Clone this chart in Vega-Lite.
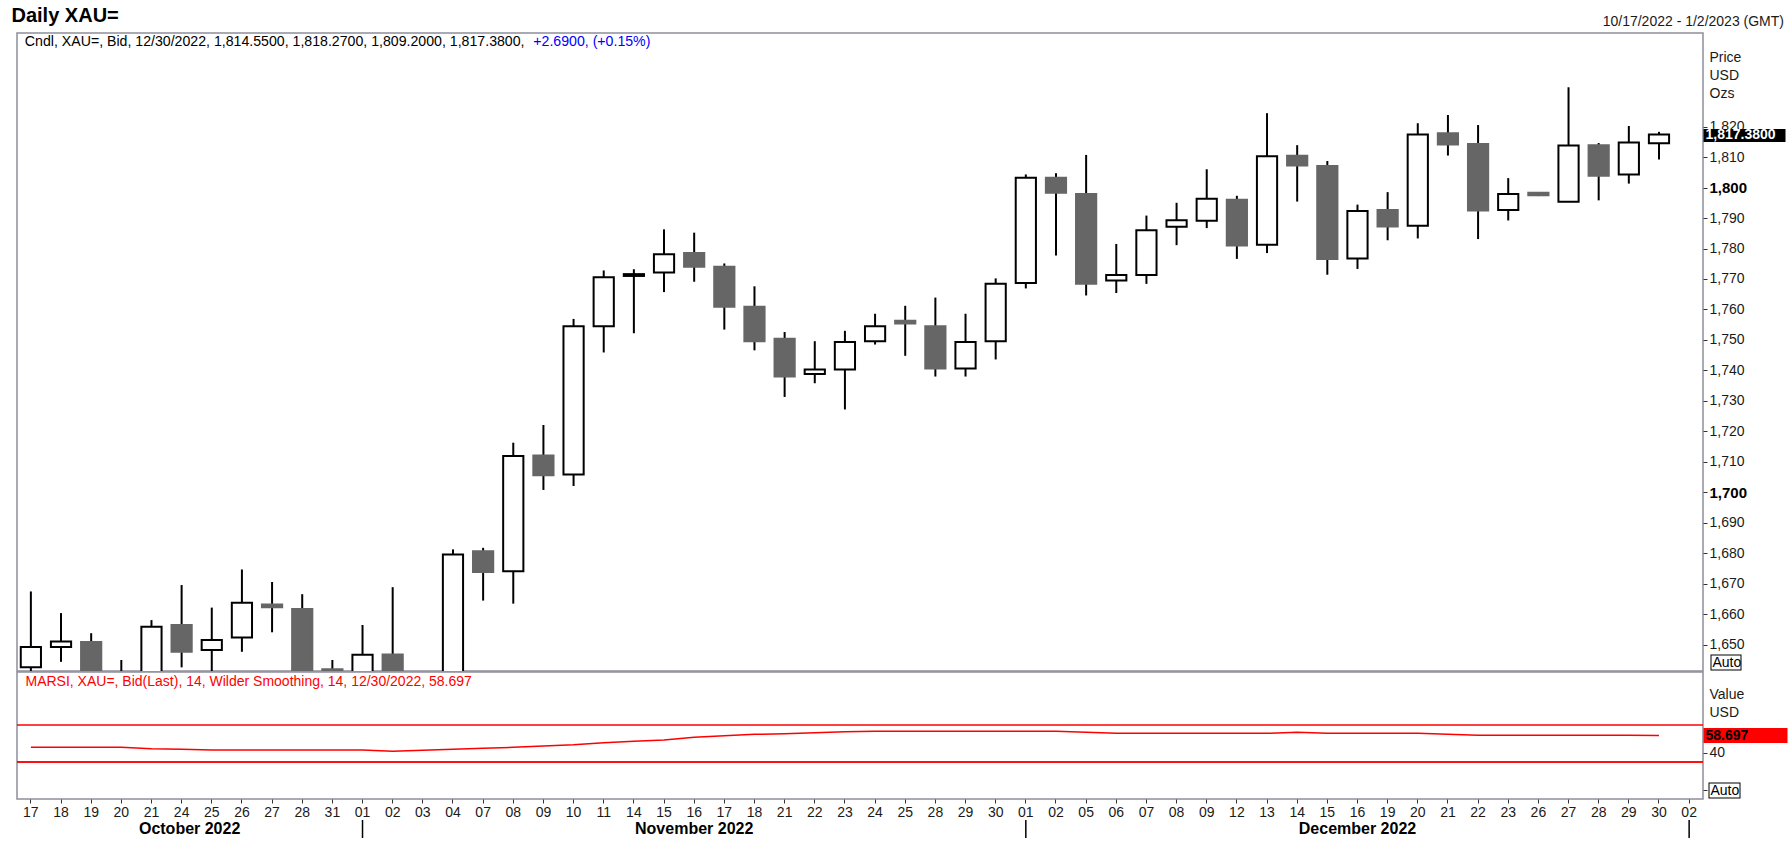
{
  "$schema": "https://vega.github.io/schema/vega-lite/v6.json",
  "padding": {"left": 11, "top": 6, "right": 0, "bottom": 0},
  "background": "white",
  "title": {"text": "Daily XAU=", "anchor": "start", "fontSize": 20, "fontWeight": "bold", "color": "#000000", "offset": -12, "dx": -4},
  "config": {
    "font": "Liberation Sans",
    "view": {"stroke": "#8f8f9c", "strokeWidth": 1.5},
    "axis": {"labelFont": "Liberation Sans", "titleFont": "Liberation Sans", "labelColor": "#1a1a1a", "titleColor": "#1a1a1a", "titleFontWeight": "normal", "labelFontSize": 14, "titleFontSize": 14, "grid": false, "domain": false, "tickColor": "#333333"},
    "title": {"font": "Liberation Sans"}
  },
  "datasets": {
    "candles": [
      {"date": "2022-10-17", "open": 1642.6, "high": 1667.5, "low": 1640.5, "close": 1649.3, "rsi": 45.9},
      {"date": "2022-10-18", "open": 1649.3, "high": 1660.4, "low": 1644.4, "close": 1651.1, "rsi": 45.9},
      {"date": "2022-10-19", "open": 1650.9, "high": 1653.8, "low": 1628.0, "close": 1630.0, "rsi": 45.9},
      {"date": "2022-10-20", "open": 1630.0, "high": 1645.0, "low": 1621.0, "close": 1627.0, "rsi": 45.9},
      {"date": "2022-10-21", "open": 1627.0, "high": 1658.1, "low": 1617.0, "close": 1655.9, "rsi": 44.4},
      {"date": "2022-10-24", "open": 1656.5, "high": 1669.6, "low": 1642.6, "close": 1647.7, "rsi": 43.7},
      {"date": "2022-10-25", "open": 1648.3, "high": 1662.2, "low": 1638.0, "close": 1651.6, "rsi": 43.0},
      {"date": "2022-10-26", "open": 1652.4, "high": 1674.7, "low": 1647.7, "close": 1663.8, "rsi": 43.0},
      {"date": "2022-10-27", "open": 1663.2, "high": 1670.6, "low": 1654.1, "close": 1662.3, "rsi": 43.0},
      {"date": "2022-10-28", "open": 1661.7, "high": 1666.6, "low": 1636.0, "close": 1640.0, "rsi": 43.0},
      {"date": "2022-10-31", "open": 1642.0, "high": 1645.0, "low": 1627.0, "close": 1633.0, "rsi": 43.0},
      {"date": "2022-11-01", "open": 1633.0, "high": 1656.5, "low": 1631.0, "close": 1646.7, "rsi": 43.0},
      {"date": "2022-11-02", "open": 1646.8, "high": 1668.9, "low": 1631.0, "close": 1635.0, "rsi": 41.5},
      {"date": "2022-11-03", "open": 1635.0, "high": 1640.0, "low": 1617.0, "close": 1630.0, "rsi": 42.6},
      {"date": "2022-11-04", "open": 1629.6, "high": 1681.3, "low": 1627.5, "close": 1679.6, "rsi": 43.7},
      {"date": "2022-11-07", "open": 1680.7, "high": 1681.8, "low": 1664.5, "close": 1673.9, "rsi": 44.8},
      {"date": "2022-11-08", "open": 1674.1, "high": 1716.3, "low": 1663.5, "close": 1711.9, "rsi": 45.9},
      {"date": "2022-11-09", "open": 1712.1, "high": 1722.1, "low": 1700.8, "close": 1705.6, "rsi": 47.3},
      {"date": "2022-11-10", "open": 1705.9, "high": 1756.9, "low": 1702.1, "close": 1754.5, "rsi": 48.7},
      {"date": "2022-11-11", "open": 1754.5, "high": 1772.8, "low": 1745.9, "close": 1770.6, "rsi": 50.9},
      {"date": "2022-11-14", "open": 1771.0, "high": 1773.2, "low": 1752.2, "close": 1771.6, "rsi": 52.4},
      {"date": "2022-11-15", "open": 1772.1, "high": 1786.3, "low": 1765.7, "close": 1778.1, "rsi": 53.8},
      {"date": "2022-11-16", "open": 1778.5, "high": 1785.2, "low": 1769.1, "close": 1774.0, "rsi": 56.7},
      {"date": "2022-11-17", "open": 1774.0, "high": 1775.1, "low": 1753.4, "close": 1760.9, "rsi": 58.5},
      {"date": "2022-11-18", "open": 1760.9, "high": 1767.6, "low": 1746.6, "close": 1749.6, "rsi": 59.9},
      {"date": "2022-11-21", "open": 1750.4, "high": 1752.6, "low": 1731.3, "close": 1738.0, "rsi": 60.6},
      {"date": "2022-11-22", "open": 1738.8, "high": 1749.6, "low": 1735.8, "close": 1740.3, "rsi": 61.5},
      {"date": "2022-11-23", "open": 1740.3, "high": 1753.0, "low": 1727.2, "close": 1749.3, "rsi": 62.6},
      {"date": "2022-11-24", "open": 1749.6, "high": 1758.6, "low": 1748.5, "close": 1754.5, "rsi": 63.2},
      {"date": "2022-11-25", "open": 1756.3, "high": 1761.2, "low": 1744.8, "close": 1755.4, "rsi": 63.2},
      {"date": "2022-11-28", "open": 1754.5, "high": 1763.9, "low": 1738.0, "close": 1740.6, "rsi": 63.2},
      {"date": "2022-11-29", "open": 1740.6, "high": 1758.6, "low": 1738.0, "close": 1749.3, "rsi": 63.2},
      {"date": "2022-11-30", "open": 1749.6, "high": 1770.2, "low": 1743.6, "close": 1768.4, "rsi": 63.2},
      {"date": "2022-12-01", "open": 1768.7, "high": 1804.3, "low": 1766.9, "close": 1803.2, "rsi": 63.2},
      {"date": "2022-12-02", "open": 1803.2, "high": 1804.7, "low": 1777.7, "close": 1798.3, "rsi": 63.2},
      {"date": "2022-12-05", "open": 1797.9, "high": 1810.7, "low": 1764.6, "close": 1768.4, "rsi": 62.1},
      {"date": "2022-12-06", "open": 1769.5, "high": 1781.5, "low": 1765.4, "close": 1771.3, "rsi": 61.0},
      {"date": "2022-12-07", "open": 1771.3, "high": 1790.8, "low": 1768.4, "close": 1786.0, "rsi": 61.0},
      {"date": "2022-12-08", "open": 1787.1, "high": 1795.0, "low": 1781.1, "close": 1789.3, "rsi": 61.0},
      {"date": "2022-12-09", "open": 1789.1, "high": 1806.0, "low": 1786.7, "close": 1796.3, "rsi": 61.0},
      {"date": "2022-12-12", "open": 1796.0, "high": 1797.3, "low": 1776.6, "close": 1781.0, "rsi": 61.0},
      {"date": "2022-12-13", "open": 1781.2, "high": 1824.4, "low": 1778.5, "close": 1810.3, "rsi": 61.0},
      {"date": "2022-12-14", "open": 1810.4, "high": 1813.9, "low": 1795.4, "close": 1807.2, "rsi": 62.1},
      {"date": "2022-12-15", "open": 1807.1, "high": 1808.7, "low": 1771.4, "close": 1776.6, "rsi": 61.0},
      {"date": "2022-12-16", "open": 1776.7, "high": 1794.4, "low": 1773.3, "close": 1792.3, "rsi": 61.0},
      {"date": "2022-12-19", "open": 1792.6, "high": 1798.5, "low": 1782.7, "close": 1787.2, "rsi": 61.0},
      {"date": "2022-12-20", "open": 1787.5, "high": 1821.1, "low": 1783.3, "close": 1817.4, "rsi": 61.0},
      {"date": "2022-12-21", "open": 1817.8, "high": 1823.8, "low": 1810.5, "close": 1814.1, "rsi": 59.9},
      {"date": "2022-12-22", "open": 1814.3, "high": 1820.5, "low": 1783.1, "close": 1792.5, "rsi": 59.0},
      {"date": "2022-12-23", "open": 1792.6, "high": 1803.1, "low": 1789.2, "close": 1797.9, "rsi": 59.0},
      {"date": "2022-12-26", "open": 1798.3, "high": 1798.5, "low": 1797.2, "close": 1797.5, "rsi": 59.0},
      {"date": "2022-12-27", "open": 1795.3, "high": 1832.9, "low": 1795.3, "close": 1813.8, "rsi": 59.0},
      {"date": "2022-12-28", "open": 1813.9, "high": 1814.6, "low": 1795.8, "close": 1803.9, "rsi": 59.0},
      {"date": "2022-12-29", "open": 1804.3, "high": 1820.2, "low": 1801.3, "close": 1814.8, "rsi": 58.8},
      {"date": "2022-12-30", "open": 1814.55, "high": 1818.27, "low": 1809.2, "close": 1817.38, "rsi": 58.697}
    ],
    "edges": [
      {"date": "2022-11-01"},
      {"date": "2022-12-01"},
      {"date": "2023-01-02"}
    ],
    "levels": [
      {"level": 70},
      {"level": 30}
    ]
  },
  "spacing": -2,
  "resolve": {"scale": {"x": "shared", "y": "independent"}, "axis": {"x": "independent", "y": "independent"}},
  "vconcat": [
    {
      "width": 1686,
      "height": 638,
      "title": {"text": "10/17/2022 - 1/2/2023 (GMT)", "anchor": "end", "frame": "group", "dx": 81, "fontSize": 14, "fontWeight": "normal", "color": "#1a1a1a", "offset": 4},
      "data": {"name": "candles"},
      "encoding": {
        "x": {"field": "date", "type": "ordinal", "scale": {"paddingInner": 0.33, "paddingOuter": 0.125}, "axis": null}
      },
      "layer": [
        {
          "mark": {"type": "rule", "color": "#000000", "strokeWidth": 2, "clip": true},
          "encoding": {
            "y": {
              "field": "low", "type": "quantitative",
              "scale": {"domain": [1641.4, 1850.7], "nice": false, "zero": false},
              "axis": {
                "orient": "right",
                "values": [1650, 1660, 1670, 1680, 1690, 1700, 1710, 1720, 1730, 1740, 1750, 1760, 1770, 1780, 1790, 1800, 1810, 1820],
                "format": ",.0f",
                "labelFontWeight": {"condition": {"test": "datum.value % 100 === 0", "value": "bold"}, "value": "normal"},
                "labelFontSize": {"condition": {"test": "datum.value % 100 === 0", "value": 15}, "value": 14},
                "labelColor": {"condition": {"test": "datum.value % 100 === 0", "value": "#000000"}, "value": "#1a1a1a"},
                "tickSize": 4,
                "labelPadding": 2,
                "labelBaseline": "middle",
                "labelOverlap": false,
                "labelFlush": false,
                "title": ["Price", "USD", "Ozs"],
                "titleAngle": 0,
                "titleAlign": "left",
                "titleBaseline": "top",
                "titleX": 6,
                "titleY": 17,
                "titleLineHeight": 18
              }
            },
            "y2": {"field": "high"}
          }
        },
        {
          "mark": {"type": "bar", "strokeWidth": 2, "clip": true},
          "encoding": {
            "y": {
              "field": "open", "type": "quantitative",
              "scale": {"domain": [1641.4, 1850.7], "nice": false, "zero": false},
              "axis": {
                "orient": "right",
                "values": [1817.38],
                "format": ",.4f",
                "tickSize": 82,
                "tickWidth": 13,
                "tickColor": "#000000",
                "labelColor": "#ffffff",
                "labelFontWeight": "bold",
                "labelFontSize": 14,
                "labelPadding": -80,
                "labelBaseline": "middle",
                "title": null,
                "zindex": 1
              }
            },
            "y2": {"field": "close"},
            "fill": {"condition": {"test": "datum.close >= datum.open", "value": "#ffffff"}, "value": "#666666"},
            "stroke": {"condition": {"test": "datum.close >= datum.open", "value": "#000000"}, "value": "#666666"}
          }
        },
        {
          "data": {"values": [{"label": "Cndl, XAU=, Bid, 12/30/2022, 1,814.5500, 1,818.2700, 1,809.2000, 1,817.3800,"}]},
          "mark": {"type": "text", "align": "left", "baseline": "middle", "fontSize": 14.15, "color": "#000000", "dx": -6},
          "encoding": {
            "x": {"datum": "2022-10-17"},
            "y": {
              "datum": 1847.6, "type": "quantitative",
              "scale": {"domain": [1641.4, 1850.7], "nice": false, "zero": false},
              "axis": {
                "orient": "right",
                "values": [1644.24],
                "offset": 7,
                "tickSize": 31,
                "tickWidth": 16,
                "tickColor": "#000000",
                "labels": false,
                "title": null,
                "zindex": 1
              }
            },
            "text": {"field": "label"}
          }
        },
        {
          "data": {"values": [{"label": "+2.6900, (+0.15%)"}]},
          "mark": {"type": "text", "align": "left", "baseline": "middle", "fontSize": 14.15, "color": "#0000ff", "dx": 502.4},
          "encoding": {
            "x": {"datum": "2022-10-17"},
            "y": {
              "datum": 1847.6, "type": "quantitative",
              "scale": {"domain": [1641.4, 1850.7], "nice": false, "zero": false},
              "axis": {
                "orient": "right",
                "values": [1644.24],
                "offset": 8,
                "tickSize": 29,
                "tickWidth": 14,
                "tickColor": "#ffffff",
                "labelExpr": "'Auto'",
                "labelColor": "#000000",
                "labelFontSize": 14,
                "labelPadding": -28,
                "labelBaseline": "middle",
                "title": null,
                "zindex": 2
              }
            },
            "text": {"field": "label"}
          }
        }
      ],
      "resolve": {"scale": {"y": "independent"}}
    },
    {
      "width": 1686,
      "height": 127,
      "title": {"text": "MARSI, XAU=, Bid(Last),  14, Wilder Smoothing, 14, 12/30/2022, 58.697", "anchor": "start", "frame": "group", "fontSize": 14, "fontWeight": "normal", "color": "#ff0000", "offset": -17, "dx": 8.5},
      "layer": [
        {
          "data": {"name": "levels"},
          "transform": [{"filter": "datum.level == 70"}],
          "mark": {"type": "rule", "color": "#ff0000", "strokeWidth": 1.5},
          "encoding": {
            "y": {
              "field": "level", "type": "quantitative",
              "scale": {"domain": [-10, 127.3], "nice": false, "zero": false},
              "axis": {
                "orient": "right",
                "values": [40, -0.8],
                "labelExpr": "datum.value > 0 ? '40' : ''",
                "tickSize": 4,
                "labelPadding": 2,
                "labelBaseline": "middle",
                "labelOverlap": false,
                "labelFlush": false,
                "title": ["Value", "USD"],
                "titleAngle": 0,
                "titleAlign": "left",
                "titleBaseline": "top",
                "titleX": 6,
                "titleY": 15,
                "titleLineHeight": 18
              }
            }
          }
        },
        {
          "data": {"name": "levels"},
          "transform": [{"filter": "datum.level == 30"}],
          "mark": {"type": "rule", "color": "#ff0000", "strokeWidth": 1.5},
          "encoding": {
            "y": {
              "field": "level", "type": "quantitative",
              "scale": {"domain": [-10, 127.3], "nice": false, "zero": false},
              "axis": {
                "orient": "right",
                "values": [-0.8],
                "offset": 5,
                "tickSize": 32,
                "tickWidth": 16,
                "tickColor": "#000000",
                "labels": false,
                "title": null,
                "zindex": 1
              }
            }
          }
        },
        {
          "data": {"name": "levels"},
          "transform": [{"filter": "datum.level == 30"}],
          "mark": {"type": "rule", "color": "#ff0000", "strokeWidth": 1.5},
          "encoding": {
            "y": {
              "field": "level", "type": "quantitative",
              "scale": {"domain": [-10, 127.3], "nice": false, "zero": false},
              "axis": {
                "orient": "right",
                "values": [-0.8],
                "offset": 6,
                "tickSize": 30,
                "tickWidth": 14,
                "tickColor": "#ffffff",
                "labelExpr": "'Auto'",
                "labelColor": "#000000",
                "labelFontSize": 14,
                "labelPadding": -29,
                "labelBaseline": "middle",
                "title": null,
                "zindex": 2
              }
            }
          }
        },
        {
          "data": {"name": "candles"},
          "mark": {"type": "line", "color": "#ff0000", "strokeWidth": 1.5},
          "encoding": {
            "x": {
              "field": "date", "type": "ordinal",
              "scale": {"paddingInner": 0.33, "paddingOuter": 0.125},
              "axis": {"orient": "bottom", "labelExpr": "substring(datum.value, 8, 10)", "labelAngle": 0, "tickSize": 4, "labelPadding": 2, "labelFontSize": 14, "title": null}
            },
            "y": {
              "field": "rsi", "type": "quantitative",
              "scale": {"domain": [-10, 127.3], "nice": false, "zero": false},
              "axis": {
                "orient": "right",
                "values": [58.697],
                "format": ".3f",
                "tickSize": 84,
                "tickWidth": 15,
                "tickColor": "#ff0000",
                "labelColor": "#000000",
                "labelFontWeight": "bold",
                "labelFontSize": 14,
                "labelPadding": -82,
                "labelBaseline": "middle",
                "title": null,
                "zindex": 1
              }
            }
          }
        }
      ],
      "resolve": {"scale": {"y": "independent"}}
    },
    {
      "width": 1686,
      "height": 18,
      "view": {"stroke": null},
      "layer": [
        {
          "data": {"name": "edges"},
          "mark": {"type": "rule", "color": "#000000", "strokeWidth": 1.5},
          "encoding": {
            "x": {"field": "date", "type": "ordinal", "scale": {"paddingInner": 0.33, "paddingOuter": 0.125}, "axis": null}
          }
        },
        {
          "data": {"values": [{"date": "2022-10-24", "month": "October 2022"}]},
          "mark": {"type": "text", "fontSize": 16, "fontWeight": "bold", "color": "#000000", "dx": 8},
          "encoding": {
            "x": {"field": "date", "type": "ordinal", "axis": null},
            "text": {"field": "month"}
          }
        },
        {
          "data": {"values": [{"date": "2022-11-16", "month": "November 2022"}, {"date": "2022-12-16", "month": "December 2022"}]},
          "mark": {"type": "text", "fontSize": 16, "fontWeight": "bold", "color": "#000000"},
          "encoding": {
            "x": {"field": "date", "type": "ordinal", "axis": null},
            "text": {"field": "month"}
          }
        }
      ]
    }
  ]
}
